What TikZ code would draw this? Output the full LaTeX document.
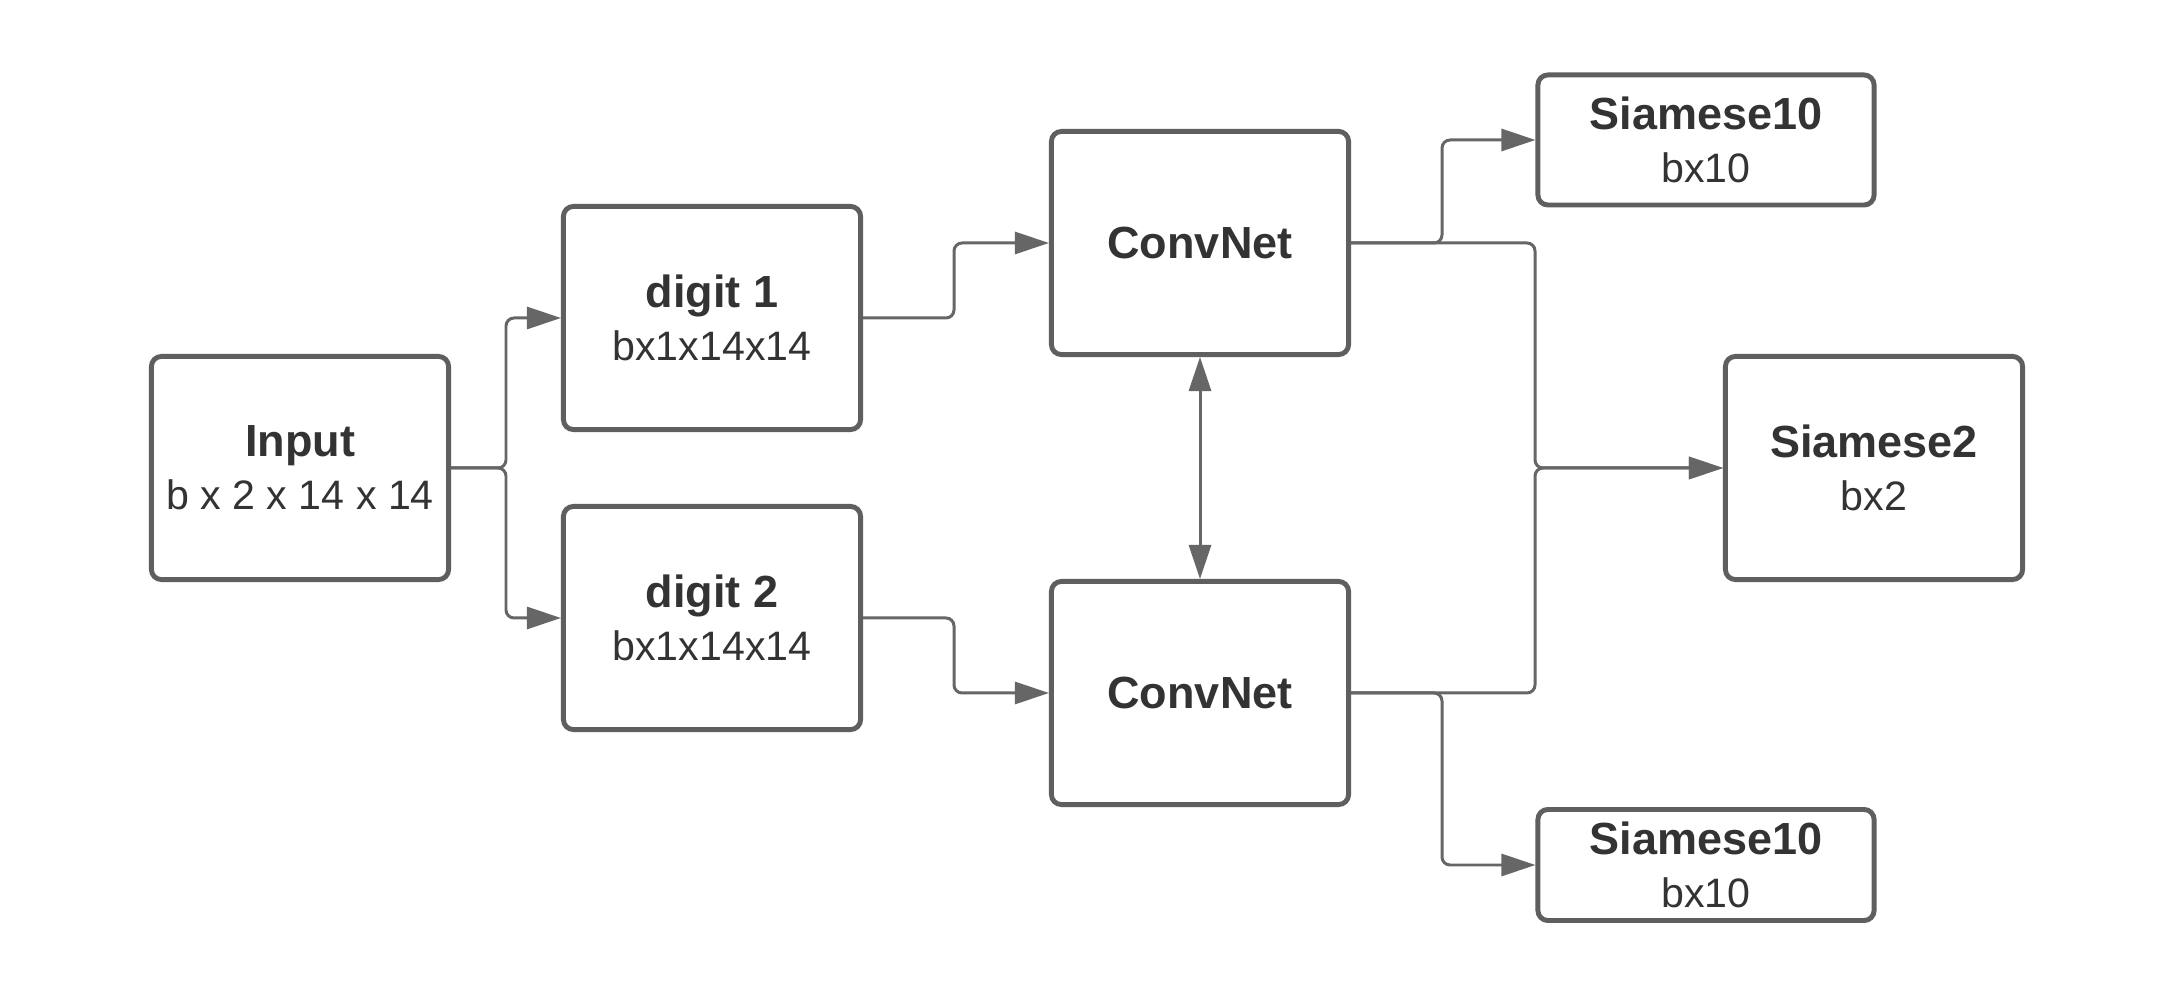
\documentclass[tikz,border=0pt]{standalone}
\usepackage{fontspec}
\setmainfont{Liberation Sans}
\usetikzlibrary{arrows.meta}
\definecolor{boxc}{HTML}{5F5F5F}
\definecolor{linec}{HTML}{666666}
\definecolor{txtc}{HTML}{333333}
\newcommand\ttl[1]{{\fontsize{12.8}{15}\selectfont\bfseries #1}}
\begin{document}
\begin{tikzpicture}[x=0.01cm,y=-0.01cm,
  box/.style={draw=boxc, line width=1.4pt, rounded corners=0.1cm, fill=white,
    align=center, text=txtc, inner sep=0pt, minimum width=2.97cm, minimum height=2.23cm,
    font=\fontsize{11.7}{15}\selectfont},
  tip/.style={Triangle[length=3.4mm,width=2.2mm]},
  conn/.style={draw=linec, line width=0.85pt, rounded corners=0.08cm, -{Triangle[length=3.4mm,width=2.2mm]}},
  ]
\useasboundingbox[fill=white] (0,0) rectangle (2175,998);
\node[box] (in) at (300,468) {\ttl{Input}\\b x 2 x 14 x 14};
\node[box] (d1) at (712,318) {\ttl{digit 1}\\bx1x14x14};
\node[box] (d2) at (712,618) {\ttl{digit 2}\\bx1x14x14};
\node[box] (c1) at (1200,243) {\ttl{ConvNet}};
\node[box] (c2) at (1200,693) {\ttl{ConvNet}};
\node[box, minimum width=3.36cm, minimum height=1.30cm] (s10a) at (1706,140) {\ttl{Siamese10}\\bx10};
\node[box] (s2) at (1874,468) {\ttl{Siamese2}\\bx2};
\node[box, minimum width=3.36cm, minimum height=1.11cm] (s10b) at (1706,865) {\ttl{Siamese10}\\bx10};
\coordinate (sx) at (506,0);
\coordinate (dx) at (954,0);
\coordinate (bx) at (1442,0);
\coordinate (jx) at (1535,0);
\draw[conn] (in.east) -- (in.east -| sx) |- (d1.west);
\draw[conn] (in.east) -- (in.east -| sx) |- (d2.west);
\draw[conn] (d1.east) -- (d1.east -| dx) |- (c1.west);
\draw[conn] (d2.east) -- (d2.east -| dx) |- (c2.west);
\draw[conn, {Triangle[length=3.4mm,width=2.2mm]}-{Triangle[length=3.4mm,width=2.2mm]}] (c1.south) -- (c2.north);
\draw[conn] (c1.east) -- (c1.east -| jx) |- (s2.west);
\draw[conn] (c2.east) -- (c2.east -| jx) |- (s2.west);
\draw[conn] (c1.east) -- (c1.east -| bx) |- (s10a.west);
\draw[conn] (c2.east) -- (c2.east -| bx) |- (s10b.west);
\end{tikzpicture}
\end{document}
